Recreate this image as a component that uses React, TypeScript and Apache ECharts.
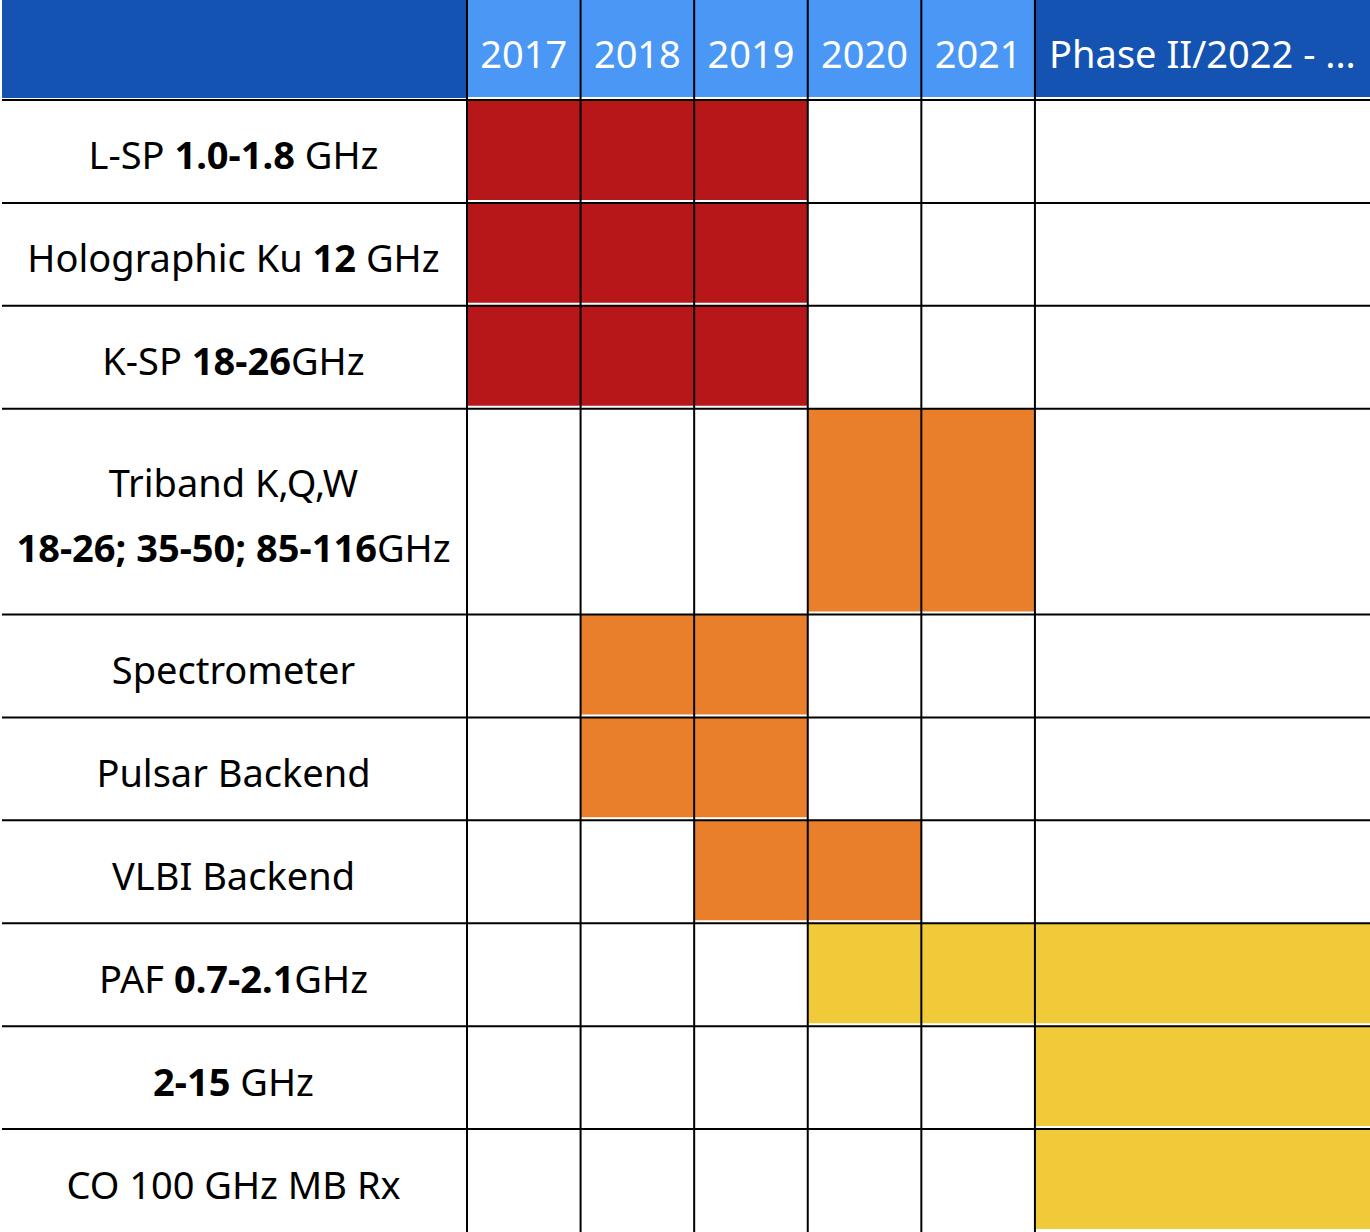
import React, { useEffect, useRef } from "react";
import * as echarts from "echarts";

// Column headers (years) and where each column begins on the time axis
const columnLabels = ["2017", "2018", "2019", "2020", "2021", "Phase II/2022 - ..."];
const columnStarts = [2017, 2018, 2019, 2020, 2021, 2022];
const columnTone = ["year", "year", "year", "year", "year", "phase"];
const axisMin = 2017;
const axisMax = 2024.95;

// Row labels (rich text: n = normal, b = bold) and row spans in row units
const rowLabels = [
  "{n|L-SP }{b|1.0-1.8}{n| GHz}",
  "{n|Holographic Ku }{b|12}{n| GHz}",
  "{n|K-SP }{b|18-26}{n|GHz}",
  "{n|Triband K,Q,W}\n{b|18-26; 35-50; 85-116}{n|GHz}",
  "{n|Spectrometer}",
  "{n|Pulsar Backend}",
  "{n|VLBI Backend}",
  "{n|PAF }{b|0.7-2.1}{n|GHz}",
  "{b|2-15}{n| GHz}",
  "{n|CO 100 GHz MB Rx}",
];
const rowSpans = [1, 1, 1, 2, 1, 1, 1, 1, 1, 1];

// Tasks: row index, start year, end year, stage
const taskRow = [0, 1, 2, 3, 4, 5, 6, 7, 8, 9];
const taskStart = [2017, 2017, 2017, 2020, 2018, 2018, 2019, 2020, 2022, 2022];
const taskEnd = [2020, 2020, 2020, 2022, 2020, 2020, 2021, axisMax, axisMax, axisMax];
const taskStage = [0, 0, 0, 1, 1, 1, 1, 2, 2, 2];

const stageColors = ["#B71719", "#EA7F2B", "#F1CA3A"];
const headerColors: Record<string, string> = { year: "#4A97F5", phase: "#1553B3" };
const cornerColor = "#1553B3";
const FONT = "'Noto Sans', 'DejaVu Sans', sans-serif";

export default function App() {
  const ref = useRef<HTMLDivElement>(null);
  useEffect(() => {
    if (!ref.current) return;
    const chart = echarts.init(ref.current, null, { renderer: "svg" });

    const rowBounds: number[] = [0];
    rowSpans.forEach((s) => rowBounds.push(rowBounds[rowBounds.length - 1] + s));
    const totalRows = rowBounds[rowBounds.length - 1];
    const colEnds = columnStarts.map((s, i) => (i < columnStarts.length - 1 ? columnStarts[i + 1] : axisMax));

    const labelRich = {
      n: { fontSize: 38, fontFamily: FONT, fill: "#000", lineHeight: 65 },
      b: { fontSize: 38, fontFamily: FONT, fill: "#000", fontWeight: "bold", lineHeight: 65 },
    };

    const option: any = {
      animation: false,
      grid: { left: 467, right: 0, top: 100, bottom: 0 },
      xAxis: { type: "value", min: axisMin, max: axisMax, show: false },
      yAxis: { type: "value", min: 0, max: totalRows, inverse: true, show: false },
      series: [
        {
          type: "custom",
          name: "corner",
          clip: false,
          z: 1,
          data: [[0]],
          renderItem: (params: any, api: any) => {
            const cs = params.coordSys;
            return {
              type: "rect",
              shape: { x: 2, y: 0, width: cs.x - 2, height: cs.y - 2 },
              style: { fill: cornerColor },
            };
          },
        },
        {
          type: "custom",
          name: "header",
          clip: false,
          z: 1,
          data: columnStarts.map((s, i) => [s, colEnds[i], i]),
          renderItem: (params: any, api: any) => {
            const cs = params.coordSys;
            const i = api.value(2);
            const x0 = api.coord([api.value(0), 0])[0];
            const x1 = api.coord([api.value(1), 0])[0];
            return {
              type: "group",
              children: [
                {
                  type: "rect",
                  shape: { x: x0, y: 0, width: x1 - x0, height: cs.y - 3 },
                  style: { fill: headerColors[columnTone[i]] },
                },
                {
                  type: "text",
                  style: {
                    text: columnLabels[i],
                    x: (x0 + x1) / 2,
                    y: cs.y / 2 + 3,
                    align: "center",
                    verticalAlign: "middle",
                    fontSize: 38,
                    fontFamily: FONT,
                    fill: "#fff",
                  },
                },
              ],
            };
          },
        },
        {
          type: "custom",
          name: "labels",
          clip: false,
          z: 1,
          data: rowLabels.map((_, i) => [i]),
          renderItem: (params: any, api: any) => {
            const cs = params.coordSys;
            const i = api.value(0);
            const yTop = api.coord([axisMin, rowBounds[i]])[1];
            const yBot = api.coord([axisMin, rowBounds[i + 1]])[1];
            return {
              type: "text",
              style: {
                text: rowLabels[i],
                x: cs.x / 2,
                y: (yTop + yBot) / 2 + 3,
                align: "center",
                verticalAlign: "middle",
                rich: labelRich,
              },
            };
          },
        },
        {
          type: "custom",
          name: "tasks",
          clip: false,
          z: 2,
          data: taskRow.map((r, i) => [r, taskStart[i], taskEnd[i], taskStage[i]]),
          renderItem: (params: any, api: any) => {
            const r = api.value(0);
            const p0 = api.coord([api.value(1), rowBounds[r]]);
            const p1 = api.coord([api.value(2), rowBounds[r + 1]]);
            return {
              type: "rect",
              shape: { x: p0[0], y: p0[1], width: p1[0] - p0[0], height: p1[1] - p0[1] - 3 },
              style: { fill: stageColors[api.value(3)] },
            };
          },
        },
        {
          type: "custom",
          name: "hlines",
          clip: false,
          z: 3,
          data: rowBounds.slice(0, -1).map((b) => [b]),
          renderItem: (params: any, api: any) => {
            const cs = params.coordSys;
            const y = api.coord([axisMin, api.value(0)])[1];
            return {
              type: "line",
              shape: { x1: 2, y1: y, x2: cs.x + cs.width, y2: y },
              style: { stroke: "#000", lineWidth: 2 },
            };
          },
        },
        {
          type: "custom",
          name: "vlines",
          clip: false,
          z: 3,
          data: columnStarts.map((s) => [s]),
          renderItem: (params: any, api: any) => {
            const cs = params.coordSys;
            const x = api.coord([api.value(0), 0])[0];
            return {
              type: "line",
              shape: { x1: x, y1: 0, x2: x, y2: cs.y + cs.height },
              style: { stroke: "#000", lineWidth: 2 },
            };
          },
        },
      ],
    };
    chart.setOption(option);
    return () => chart.dispose();
  }, []);
  return (
    <div
      ref={ref}
      style={{ position: "absolute", left: 0, top: 0, width: 1370, height: 1232, background: "#fff" }}
    />
  );
}
